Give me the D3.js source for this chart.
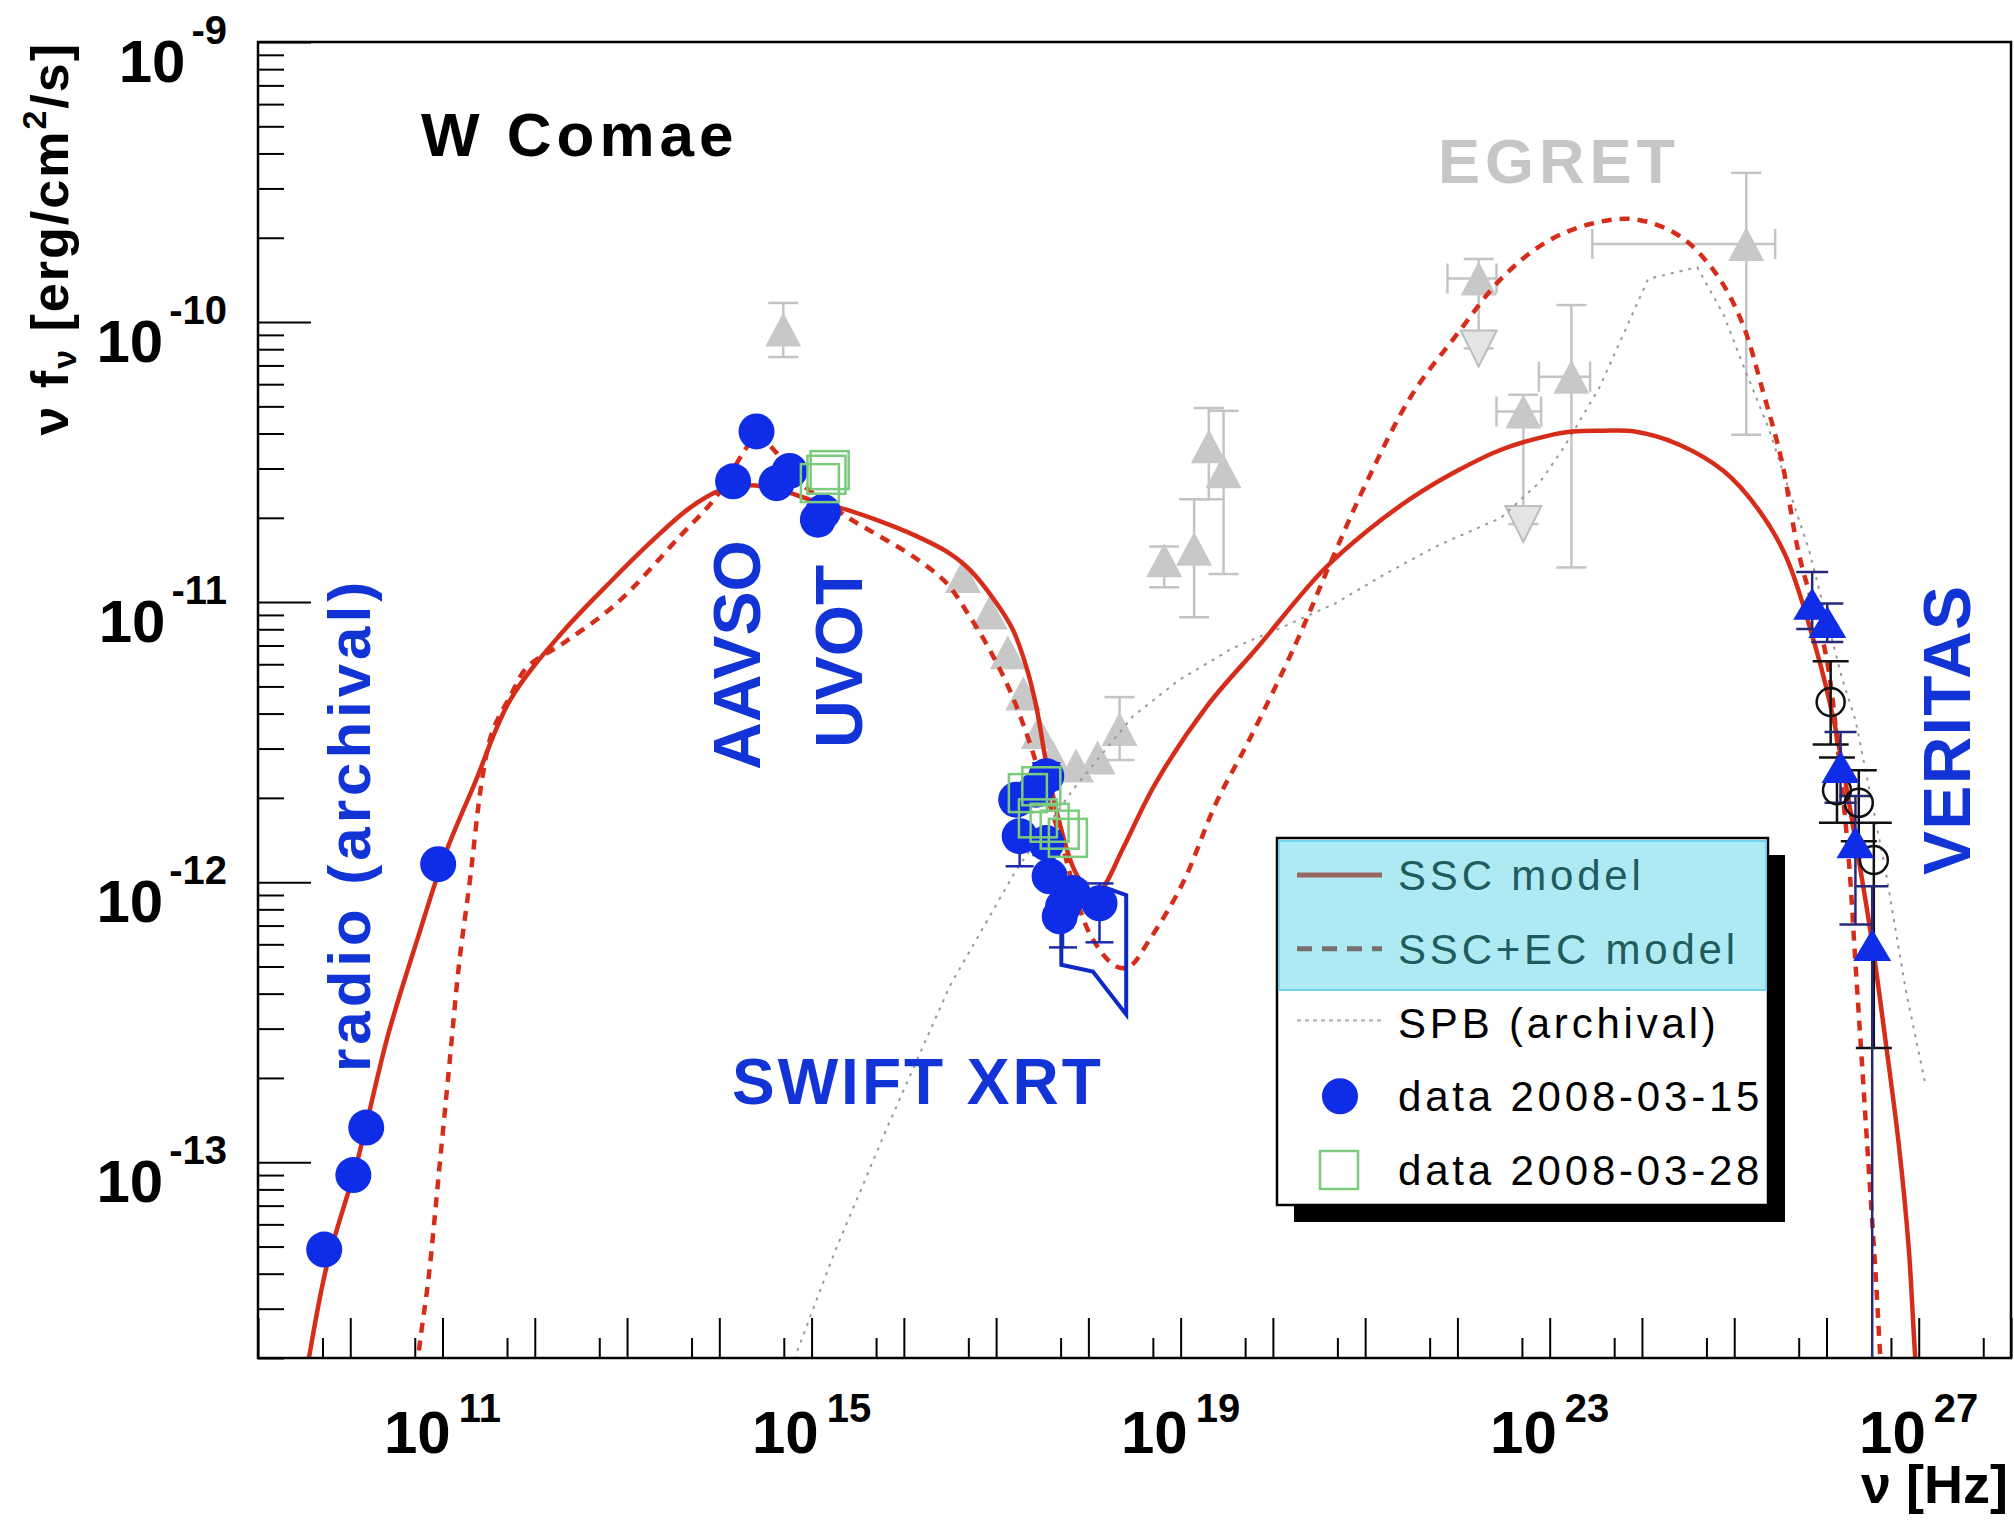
<!DOCTYPE html>
<html>
<head>
<meta charset="utf-8">
<script src="https://cdn.jsdelivr.net/npm/d3@7/dist/d3.min.js"></script>
<style>
  body { margin: 0; background: #fff; }
  svg text { font-family: "Liberation Sans", Arial, Helvetica, sans-serif; }
</style>
</head>
<body>
<script>
// W Comae spectral energy distribution, flare of March 2008
// all fluxes are nu*F_nu in erg/cm2/s, frequencies in Hz

// data 2008-03-15 (blue filled circles)
var radioPoints = [[5.22e9, 4.88e-14], [1.08e10, 9.0e-14], [1.49e10, 1.33e-13], [8.97e10, 1.16e-12]];
var opticalPoints = [[2.53e14, 4.07e-11], [1.41e14, 2.70e-11], [4.17e14, 2.66e-11], [5.78e14, 2.94e-11],
                     [1.33e15, 2.10e-11], [1.17e15, 1.97e-11]];
// [nu, flux, flux low, flux high]
var xrayPoints = [[3.50e17, 2.39e-12, 2.15e-12, 2.66e-12], [1.65e17, 1.97e-12, 1.85e-12, 2.10e-12],
                  [2.72e17, 2.14e-12, 2.00e-12, 2.30e-12], [1.80e17, 1.46e-12, 1.14e-12, 1.78e-12],
                  [3.50e17, 1.38e-12, 1.25e-12, 1.52e-12], [3.80e17, 1.05e-12, 9.8e-13, 1.12e-12],
                  [5.31e17, 8.18e-13, 5.85e-13, 9.5e-13], [6.79e17, 9.14e-13, 8.3e-13, 1.0e-12],
                  [1.32e18, 8.41e-13, 6.1e-13, 9.9e-13], [4.89e17, 7.55e-13, 6.9e-13, 8.2e-13]];
// Swift XRT butterfly outline
var xrtButterfly = [[5.09e17, 8.71e-13], [5.09e17, 5.07e-13], [1.12e18, 4.80e-13],
                    [2.57e18, 3.37e-13], [2.57e18, 8.99e-13], [1.6e18, 9.5e-13]];

// data 2008-03-28 (green open squares)
var lateSquares = [[1.45e15, 2.85e-11], [1.23e15, 2.66e-11], [1.57e15, 2.96e-11],
                   [2.21e17, 2.08e-12], [3.09e17, 2.20e-12], [2.84e17, 1.69e-12],
                   [3.80e17, 1.63e-12], [4.89e17, 1.54e-12], [6.00e17, 1.44e-12]];

// archival data, grey triangles: [nu, flux, flux low, flux high, nu low, nu high]
var archivalPoints = [
  [4.93e14, 9.4e-11, 7.5e-11, 1.17e-10, null, null],
  [4.38e16, 1.24e-11, null, null, null, null],
  [8.51e16, 9.18e-12, null, null, null, null],
  [1.34e17, 6.62e-12, null, null, null, null],
  [1.97e17, 4.72e-12, null, null, null, null],
  [2.90e17, 3.44e-12, null, null, null, null],
  [4.12e17, 2.79e-12, null, null, null, null],
  [7.35e17, 2.61e-12, null, null, null, null],
  [1.26e18, 2.79e-12, null, null, null, null],
  [2.18e18, 3.52e-12, 2.73e-12, 4.58e-12, null, null],
  [6.64e18, 1.41e-11, 1.13e-11, 1.58e-11, null, null],
  [1.40e19, 1.55e-11, 8.83e-12, 2.33e-11, null, null],
  [2.02e19, 3.60e-11, 2.33e-11, 4.93e-11, null, null],
  [2.92e19, 2.93e-11, 1.26e-11, 4.82e-11, null, null],
  [1.70e22, 1.43e-10, 8.05e-11, 1.68e-10, 7.80e21, 2.65e22],
  [5.18e22, 4.79e-11, 1.90e-11, 5.50e-11, 2.65e22, 8.07e22],
  [1.72e23, 6.38e-11, 1.33e-11, 1.15e-10, 7.64e22, 2.74e23],
  [1.35e25, 1.90e-10, 3.96e-11, 3.41e-10, 2.90e23, 2.78e25]
];
var archivalLimits = [[1.70e22, 8.05e-11], [5.18e22, 1.90e-11]];

// VERITAS: blue triangles and black open circles: [nu, flux, flux low, flux high]
var veritasPoints = [[7.00e25, 9.86e-12, 8.02e-12, 1.28e-11], [1.02e26, 8.49e-12, 7.21e-12, 9.89e-12],
                     [1.42e26, 2.58e-12, 1.92e-12, 3.44e-12], [2.06e26, 1.39e-12, 7.06e-13, 2.03e-12],
                     [3.13e26, 5.97e-13, 1e-15, 9.68e-13]];
var veritasOpen = [[1.11e26, 4.40e-12, 3.10e-12, 6.15e-12], [1.30e26, 2.13e-12, 1.63e-12, 2.79e-12],
                   [2.24e26, 1.92e-12, 1.40e-12, 2.51e-12], [3.26e26, 1.20e-12, 2.56e-13, 1.63e-12]];

// model curves as [log10 nu, log10 flux]
var sscModel = [[9.50,-13.80],[9.552,-13.698],[9.745,-13.370],[10.077,-12.995],[10.409,-12.546],[10.740,-12.191],
  [11.017,-11.910],[11.348,-11.648],[11.734,-11.349],[12.287,-11.112],[12.839,-10.921],[13.282,-10.778],
  [13.669,-10.666],[14.000,-10.602],[14.277,-10.583],[14.624,-10.596],[14.972,-10.633],[15.378,-10.670],
  [15.739,-10.711],[16.100,-10.759],[16.462,-10.819],[16.714,-10.884],[17.003,-11.003],[17.182,-11.099],
  [17.327,-11.230],[17.435,-11.372],[17.544,-11.575],[17.684,-11.784],[17.865,-11.968],[18.060,-12.046],
  [18.157,-12.021],[18.380,-11.876],[18.728,-11.647],[19.284,-11.372],[19.837,-11.160],[20.538,-10.888],
  [21.021,-10.746],[21.505,-10.628],[21.988,-10.533],[22.472,-10.456],[22.955,-10.408],[23.245,-10.391],
  [23.581,-10.388],[23.922,-10.391],[24.405,-10.438],[24.889,-10.533],[25.275,-10.675],[25.565,-10.840],
  [25.900,-11.182],[26.079,-11.422],[26.206,-11.643],[26.350,-11.920],[26.495,-12.215],[26.640,-12.566],
  [26.783,-12.934],[26.891,-13.304],[26.964,-13.706],[26.99,-13.80]];
var sscEcModel = [[10.72,-13.80],[10.740,-13.688],[10.851,-13.407],[10.962,-13.033],[11.072,-12.659],
  [11.182,-12.284],[11.293,-12.004],[11.431,-11.629],[11.542,-11.461],[11.734,-11.336],[11.912,-11.234],
  [12.330,-11.142],[12.886,-11.005],[13.573,-10.765],[13.971,-10.622],[14.259,-10.467],[14.403,-10.408],
  [14.620,-10.467],[14.800,-10.551],[15.378,-10.694],[15.739,-10.765],[16.100,-10.837],[16.462,-10.932],
  [16.714,-11.051],[16.930,-11.170],[17.146,-11.313],[17.327,-11.467],[17.471,-11.611],[17.684,-11.830],
  [18.012,-12.182],[18.302,-12.301],[18.446,-12.301],[18.662,-12.206],[19.024,-12.003],[19.385,-11.717],
  [19.745,-11.491],[20.247,-11.149],[20.634,-10.852],[21.021,-10.568],[21.505,-10.261],[21.988,-10.047],
  [22.472,-9.846],[22.955,-9.716],[23.438,-9.650],[23.922,-9.633],[24.405,-9.692],[24.791,-9.822],
  [25.082,-9.999],[25.323,-10.261],[25.516,-10.497],[25.701,-10.828],[25.990,-11.182],[26.133,-11.551],
  [26.242,-11.920],[26.314,-12.289],[26.387,-12.658],[26.459,-13.027],[26.532,-13.396],[26.586,-13.706],
  [26.61,-13.80]];
var spbArchival = [[14.78,-13.80],[14.829,-13.688],[15.250,-13.321],[15.807,-12.885],[16.496,-12.372],
  [17.218,-11.956],[17.832,-11.670],[18.481,-11.408],[18.987,-11.277],[19.562,-11.165],[20.118,-11.087],
  [20.674,-11.005],[21.214,-10.900],[21.787,-10.798],[22.472,-10.699],[22.900,-10.569],[23.149,-10.450],
  [23.536,-10.236],[23.825,-10.024],[24.067,-9.846],[24.598,-9.804],[24.889,-9.976],[25.082,-10.142],
  [25.371,-10.378],[25.810,-10.813],[26.170,-11.274],[26.315,-11.422],[26.640,-11.957],[26.857,-12.381],
  [27.072,-12.722]];

// axis labels (exponents of ten)
var xLabelExps = [11, 15, 19, 23, 27];
var yLabelExps = [-13, -12, -11, -10, -9];

var legendLabels = ["SSC model", "SSC+EC model", "SPB (archival)", "data 2008-03-15", "data 2008-03-28"];

//Canvas
var width = 2014, height = 1522;
var frameLeft = 258, frameRight = 2011, frameTop = 42, frameBottom = 1358;

var blue = "#0f2ce6", red = "#d62d1a", grey = "#c8c8c8";

var svg = d3.select("body").append("svg")
            .attr("width", width)
            .attr("height", height);

var x = d3.scaleLog().domain([1e9, 1e28]).range([frameLeft, frameRight]);
var y = d3.scaleLog().domain([2e-14, 1e-9]).range([frameBottom, frameTop]);

svg.append("defs").append("clipPath").attr("id", "plotclip")
   .append("rect").attr("x", frameLeft).attr("y", frameTop)
   .attr("width", frameRight - frameLeft).attr("height", frameBottom - frameTop);

//ticks: decades get long ticks, the rest short ones
var xMajor = d3.range(9, 29).map(function(e){ return Math.pow(10, e); });
var xMinor = d3.range(9, 28).map(function(e){ return 5 * Math.pow(10, e); });
var yMajor = d3.range(-13, -8).map(function(e){ return Math.pow(10, e); });
var yMinor = [];
d3.range(-14, -9).forEach(function(e){
  d3.range(2, 10).forEach(function(k){
    var v = k * Math.pow(10, e);
    if (v >= 2e-14 && v < 1e-9) yMinor.push(v);
  });
});

function tickAxis(axis, tx, ty){
  var g = svg.append("g").attr("transform", "translate(" + tx + "," + ty + ")").call(axis);
  g.select(".domain").remove();
  g.selectAll("line").attr("stroke", "#000").attr("stroke-width", 2);
  return g;
}
tickAxis(d3.axisBottom(x).tickValues(xMajor).tickSize(-40).tickSizeOuter(0).tickFormat(""), 0, frameBottom);
tickAxis(d3.axisBottom(x).tickValues(xMinor).tickSize(-20).tickSizeOuter(0).tickFormat(""), 0, frameBottom);
tickAxis(d3.axisLeft(y).tickValues(yMajor).tickSize(-53).tickSizeOuter(0).tickFormat(""), frameLeft, 0);
tickAxis(d3.axisLeft(y).tickValues(yMinor).tickSize(-26).tickSizeOuter(0).tickFormat(""), frameLeft, 0);

//tick labels as 10^n
svg.selectAll(".xlab").data(xLabelExps).enter().append("text")
   .attr("class", "xlab")
   .attr("x", function(d){ return x(Math.pow(10, d)); })
   .attr("y", 1453)
   .attr("text-anchor", "middle")
   .style("font-weight", "bold").style("font-size", "60px")
   .each(function(d){
     var t = d3.select(this);
     t.append("tspan").text("10");
     t.append("tspan").attr("dx", 8).attr("dy", -31).style("font-size", "40px").text(d);
   });

svg.selectAll(".ylab").data(yLabelExps).enter().append("text")
   .attr("class", "ylab")
   .attr("x", 227)
   .attr("y", function(d){ return y(Math.pow(10, d)) + 40; })
   .attr("text-anchor", "end")
   .style("font-weight", "bold").style("font-size", "60px")
   .each(function(d){
     var t = d3.select(this);
     t.append("tspan").text("10");
     t.append("tspan").attr("dx", 6).attr("dy", -38).style("font-size", "40px").text(d);
   });

//axis titles
var ytitle = svg.append("text")
   .attr("transform", "translate(68,42) rotate(-90)")
   .attr("text-anchor", "end")
   .style("font-weight", "bold").style("font-size", "52px").style("letter-spacing", "2px");
ytitle.append("tspan").text("\u03bd f");
ytitle.append("tspan").attr("dy", 8).style("font-size", "34px").text("\u03bd");
ytitle.append("tspan").attr("dy", -8).text(" [erg/cm");
ytitle.append("tspan").attr("dy", -22).style("font-size", "34px").text("2");
ytitle.append("tspan").attr("dy", 22).text("/s]");

svg.append("text").attr("x", 2008).attr("y", 1503).attr("text-anchor", "end")
   .style("font-weight", "bold").style("font-size", "54px")
   .text("\u03bd [Hz]");

//everything inside the frame gets clipped
var plot = svg.append("g").attr("clip-path", "url(#plotclip)");

function errBar(g, x1, y1, x2, y2, cap, color, w){
  g.append("line").attr("x1", x1).attr("y1", y1).attr("x2", x2).attr("y2", y2)
   .attr("stroke", color).attr("stroke-width", w);
  if (x1 == x2) {
    [y1, y2].forEach(function(yy){
      g.append("line").attr("x1", x1 - cap).attr("x2", x1 + cap).attr("y1", yy).attr("y2", yy)
       .attr("stroke", color).attr("stroke-width", w);
    });
  } else {
    [x1, x2].forEach(function(xx){
      g.append("line").attr("x1", xx).attr("x2", xx).attr("y1", y1 - cap).attr("y2", y1 + cap)
       .attr("stroke", color).attr("stroke-width", w);
    });
  }
}

function triangle(w, h, down){
  var s = down ? -1 : 1;
  return "M0," + (-s * h / 2) + "L" + (w / 2) + "," + (s * h / 2) + "L" + (-w / 2) + "," + (s * h / 2) + "Z";
}

//archival grey data
var arch = plot.append("g");
archivalPoints.forEach(function(d){
  if (d[2] != null) errBar(arch, x(d[0]), y(d[2]), x(d[0]), y(d[3]), 15, "#c4c4c4", 2.5);
  if (d[4] != null) errBar(arch, x(d[4]), y(d[1]), x(d[5]), y(d[1]), 15, "#c4c4c4", 2.5);
});
arch.selectAll(".lim").data(archivalLimits).enter().append("path")
    .attr("d", triangle(36, 36, true))
    .attr("transform", function(d){ return "translate(" + x(d[0]) + "," + y(d[1]) + ")"; })
    .attr("fill", "#e4e4e4").attr("stroke", "#bdbdbd").attr("stroke-width", 2);
arch.selectAll(".tri").data(archivalPoints).enter().append("path")
    .attr("d", triangle(36, 34, false))
    .attr("transform", function(d){ return "translate(" + x(d[0]) + "," + y(d[1]) + ")"; })
    .attr("fill", grey);

//model curves
var line = d3.line()
             .x(function(d){ return x(Math.pow(10, d[0])); })
             .y(function(d){ return y(Math.pow(10, d[1])); });

plot.append("path").datum(spbArchival)
    .attr("d", line.curve(d3.curveLinear))
    .attr("fill", "none").attr("stroke", "#999").attr("stroke-width", 2).attr("stroke-dasharray", "3,6");
plot.append("path").datum(sscEcModel)
    .attr("d", line.curve(d3.curveCatmullRom.alpha(0.5)))
    .attr("fill", "none").attr("stroke", red).attr("stroke-width", 4.5).attr("stroke-dasharray", "10,8");
plot.append("path").datum(sscModel)
    .attr("d", line.curve(d3.curveCatmullRom.alpha(0.5)))
    .attr("fill", "none").attr("stroke", red).attr("stroke-width", 4.5);

//Swift XRT butterfly
plot.append("path").datum(xrtButterfly)
    .attr("d", d3.line().x(function(d){ return x(d[0]); }).y(function(d){ return y(d[1]); }).curve(d3.curveLinearClosed))
    .attr("fill", "none").attr("stroke", "#1028c8").attr("stroke-width", 4);

//2008-03-15 data
var early = plot.append("g");
xrayPoints.forEach(function(d){
  errBar(early, x(d[0]), y(d[2]), x(d[0]), y(d[3]), 14, "#1a2aa8", 2.5);
});
early.selectAll("circle").data(radioPoints.concat(opticalPoints, xrayPoints)).enter().append("circle")
     .attr("cx", function(d){ return x(d[0]); })
     .attr("cy", function(d){ return y(d[1]); })
     .attr("r", 18)
     .attr("fill", blue);

//2008-03-28 data
plot.selectAll(".sq").data(lateSquares).enter().append("rect")
    .attr("x", function(d){ return x(d[0]) - 19; })
    .attr("y", function(d){ return y(d[1]) - 19; })
    .attr("width", 38).attr("height", 38)
    .attr("fill", "none").attr("stroke", "#7ccb7c").attr("stroke-width", 2.5);

//VERITAS
var vts = plot.append("g");
veritasOpen.forEach(function(d){
  errBar(vts, x(d[0]), y(d[2]), x(d[0]), y(d[3]), 18, "#111", 2.5);
});
veritasPoints.forEach(function(d){
  errBar(vts, x(d[0]), y(d[2]), x(d[0]), y(d[3]), 16, "#26287a", 2.5);
});
vts.selectAll("circle").data(veritasOpen).enter().append("circle")
   .attr("cx", function(d){ return x(d[0]); })
   .attr("cy", function(d){ return y(d[1]); })
   .attr("r", 14)
   .attr("fill", "none").attr("stroke", "#111").attr("stroke-width", 2.5);
vts.selectAll("path").data(veritasPoints).enter().append("path")
   .attr("d", triangle(38, 32, false))
   .attr("transform", function(d){ return "translate(" + x(d[0]) + "," + y(d[1]) + ")"; })
   .attr("fill", blue);

//frame
svg.append("rect").attr("x", frameLeft).attr("y", frameTop)
   .attr("width", frameRight - frameLeft).attr("height", frameBottom - frameTop)
   .attr("fill", "none").attr("stroke", "#000").attr("stroke-width", 2.5);

//annotations
svg.append("text").attr("x", 421).attr("y", 156)
   .style("font-weight", "bold").style("font-size", "62px").style("letter-spacing", "5px")
   .text("W Comae");

function vlabel(txt, bx, by, size, ls, color){
  svg.append("text").attr("transform", "translate(" + bx + "," + by + ") rotate(-90)")
     .style("font-weight", "bold").style("font-size", size + "px").style("letter-spacing", ls + "px")
     .attr("fill", color).text(txt);
}
var textBlue = "#1233d6";
vlabel("radio (archival)", 370, 1072, 60, 4, textBlue);
vlabel("AAVSO", 760, 770, 66, 0, textBlue);
vlabel("UVOT", 862, 748, 66, 0, textBlue);
vlabel("VERITAS", 1970, 875, 66, 1.3, textBlue);

svg.append("text").attr("x", 732).attr("y", 1104)
   .style("font-weight", "bold").style("font-size", "64px").style("letter-spacing", "3px")
   .attr("fill", textBlue).text("SWIFT XRT");
svg.append("text").attr("x", 1438).attr("y", 183)
   .style("font-weight", "bold").style("font-size", "63px").style("letter-spacing", "5px")
   .attr("fill", "#c6c6c6").text("EGRET");

//legend
var lg = svg.append("g");
lg.append("rect").attr("x", 1294).attr("y", 855).attr("width", 491).attr("height", 367).attr("fill", "#000");
lg.append("rect").attr("x", 1277).attr("y", 838).attr("width", 491).attr("height", 367)
  .attr("fill", "#fff").attr("stroke", "#000").attr("stroke-width", 2.5);
lg.append("rect").attr("x", 1279).attr("y", 841).attr("width", 487).attr("height", 149)
  .attr("fill", "#aeeaf3").attr("stroke", "#74d2f0").attr("stroke-width", 2);

var rowY = d3.scalePoint().domain(legendLabels).range([875, 1170]);
lg.selectAll(".lt").data(legendLabels).enter().append("text")
  .attr("x", 1398)
  .attr("y", function(d){ return rowY(d) + 15; })
  .style("font-size", "42px").style("letter-spacing", "3.8px")
  .attr("fill", function(d, i){ return i < 2 ? "#1f5c5e" : "#000"; })
  .text(function(d){ return d; });

lg.append("line").attr("x1", 1297).attr("x2", 1382).attr("y1", rowY(legendLabels[0])).attr("y2", rowY(legendLabels[0]))
  .attr("stroke", "#96685f").attr("stroke-width", 5);
lg.append("line").attr("x1", 1297).attr("x2", 1382).attr("y1", rowY(legendLabels[1])).attr("y2", rowY(legendLabels[1]))
  .attr("stroke", "#786e6b").attr("stroke-width", 5).attr("stroke-dasharray", "15,10");
lg.append("line").attr("x1", 1297).attr("x2", 1382).attr("y1", rowY(legendLabels[2]) - 2).attr("y2", rowY(legendLabels[2]) - 2)
  .attr("stroke", "#aaa").attr("stroke-width", 2).attr("stroke-dasharray", "4,4");
lg.append("circle").attr("cx", 1340).attr("cy", rowY(legendLabels[3])).attr("r", 18).attr("fill", blue);
lg.append("rect").attr("x", 1320).attr("y", rowY(legendLabels[4]) - 19).attr("width", 38).attr("height", 38)
  .attr("fill", "none").attr("stroke", "#7ccb7c").attr("stroke-width", 2.5);
</script>
</body>
</html>
